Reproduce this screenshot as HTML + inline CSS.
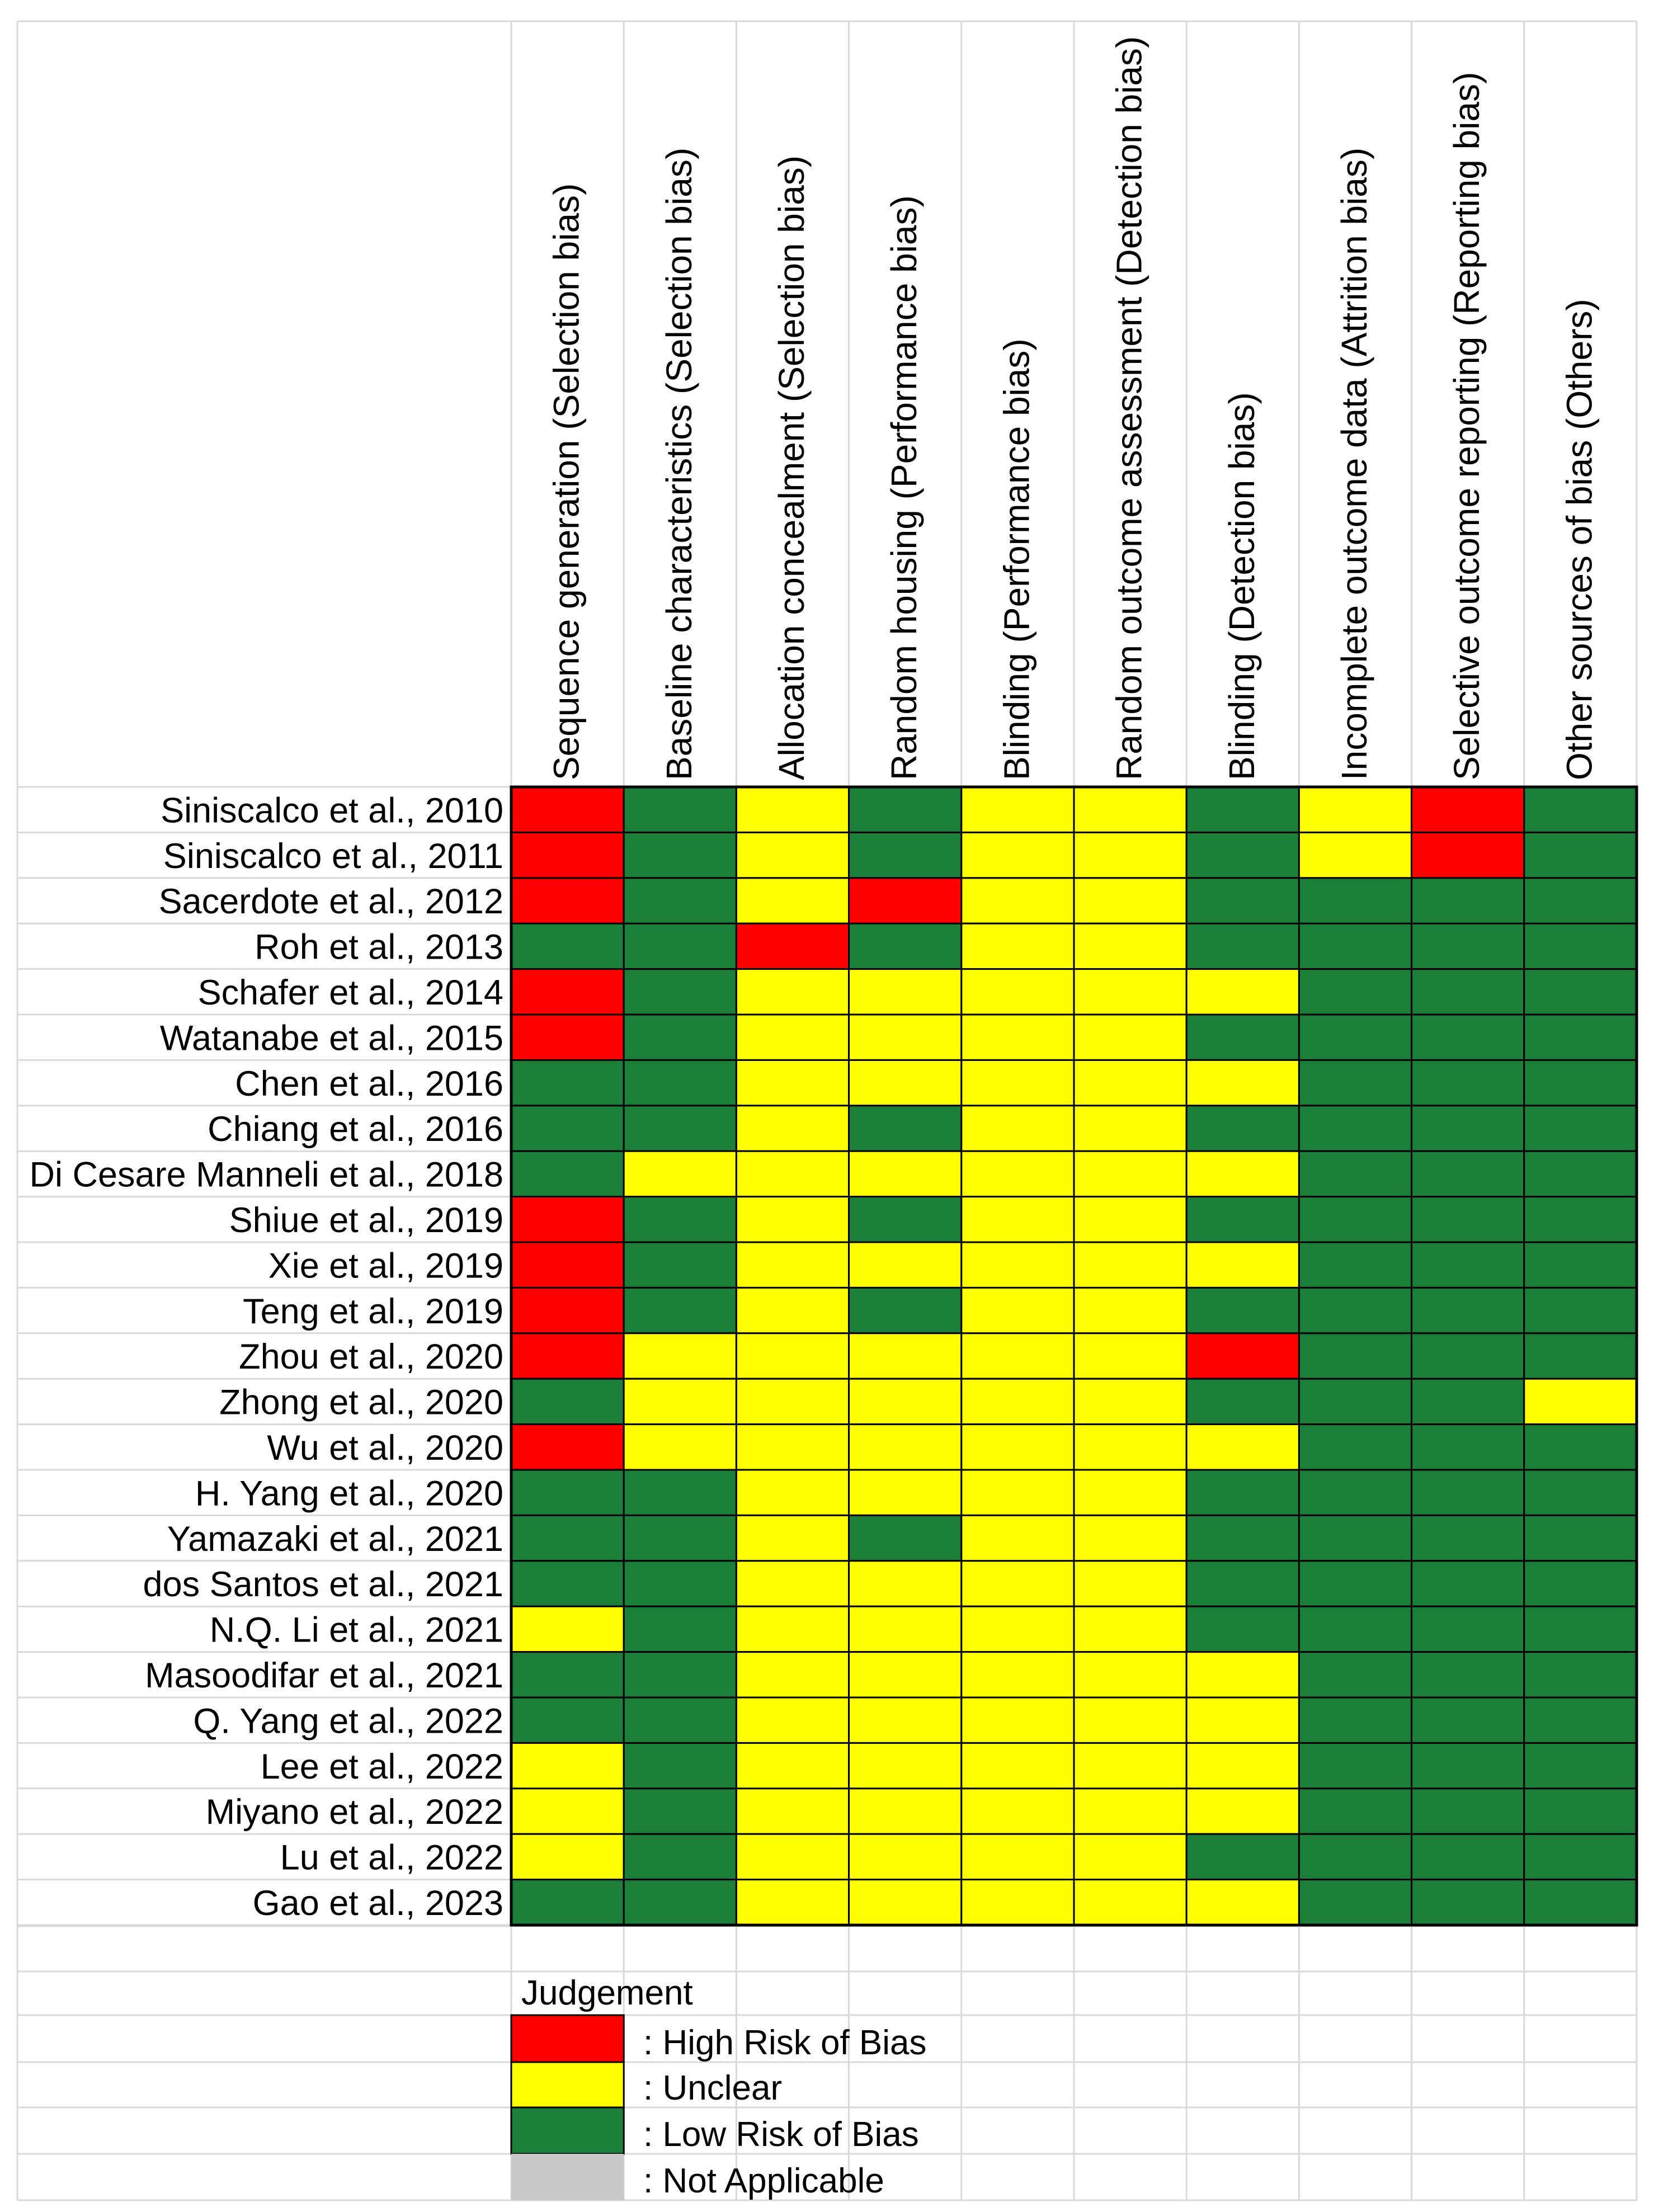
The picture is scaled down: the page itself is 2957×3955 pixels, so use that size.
<!DOCTYPE html>
<html><head><meta charset="utf-8">
<style>
html,body{margin:0;padding:0;background:#fff;}
svg{display:block;font-family:"Liberation Sans",Arial,sans-serif;}
</style></head>
<body>
<svg id="chart" width="2957" height="3955" viewBox="0 0 2957 3955" xmlns="http://www.w3.org/2000/svg"></svg>
<script>
const studies = ["Siniscalco et al., 2010","Siniscalco et al., 2011","Sacerdote et al., 2012","Roh et al., 2013","Schafer et al., 2014","Watanabe et al., 2015","Chen et al., 2016","Chiang et al., 2016","Di Cesare Manneli et al., 2018","Shiue et al., 2019","Xie et al., 2019","Teng et al., 2019","Zhou et al., 2020","Zhong et al., 2020","Wu et al., 2020","H. Yang et al., 2020","Yamazaki et al., 2021","dos Santos et al., 2021","N.Q. Li et al., 2021","Masoodifar et al., 2021","Q. Yang et al., 2022","Lee et al., 2022","Miyano et al., 2022","Lu et al., 2022","Gao et al., 2023"];
const domains = ["Sequence generation (Selection bias)","Baseline characteristics (Selection bias)","Allocation concealment (Selection bias)","Random housing (Performance bias)","Blinding (Performance bias)","Random outcome assessment (Detection bias)","Blinding (Detection bias)","Incomplete outcome data (Attrition bias)","Selective outcome reporting (Reporting bias)","Other sources of bias (Others)"];
const judgements = [
"RGYGYYGYRG","RGYGYYGYRG","RGYRYYGGGG","GGRGYYGGGG","RGYYYYYGGG",
"RGYYYYGGGG","GGYYYYYGGG","GGYGYYGGGG","GYYYYYYGGG","RGYGYYGGGG",
"RGYYYYYGGG","RGYGYYGGGG","RYYYYYRGGG","GYYYYYGGGY","RYYYYYYGGG",
"GGYYYYGGGG","GGYGYYGGGG","GGYYYYGGGG","YGYYYYGGGG","GGYYYYYGGG",
"GGYYYYYGGG","YGYYYYYGGG","YGYYYYYGGG","YGYYYYGGGG","GGYYYYYGGG"];
const legendKeys = ["R","Y","G","N"];
const legendLabels = [": High Risk of Bias",": Unclear",": Low Risk of Bias",": Not Applicable"];

const colors = {R:"#ff0000",Y:"#ffff00",G:"#1b7f3a",N:"#c8c8c8"};
const NS="http://www.w3.org/2000/svg";
const svg=document.getElementById("chart");
const leftX=31, gridX0=914, colW=201.2, topY=38, headerBottom=1407, rowH=81.4;
const rightX=gridX0+colW*domains.length;
const colX=i=>gridX0+i*colW;
const rowY=i=>headerBottom+i*rowH;
const dataBottom=rowY(studies.length);
const extraRows=[3444,3525,3603,3687,3768,3851,3934];
function el(tag,attrs,parent){const e=document.createElementNS(NS,tag);for(const k in attrs)e.setAttribute(k,attrs[k]);(parent||svg).appendChild(e);return e;}
const grid=el("g",{});


el("line",{x1:leftX,x2:rightX,y1:topY,y2:topY,stroke:"#d9d9d9","stroke-width":3},grid);
el("line",{x1:leftX,x2:leftX,y1:topY,y2:3934,stroke:"#d9d9d9","stroke-width":3},grid);
for(let i=0;i<=domains.length;i++){el("line",{x1:colX(i),x2:colX(i),y1:topY,y2:3934,stroke:"#d9d9d9","stroke-width":3},grid);}
for(let r=0;r<=studies.length;r++){el("line",{x1:leftX,x2:gridX0,y1:rowY(r),y2:rowY(r),stroke:"#d9d9d9","stroke-width":3},grid);}
extraRows.forEach(y=>el("line",{x1:leftX,x2:rightX,y1:y,y2:y,stroke:"#d9d9d9","stroke-width":3},grid));
domains.forEach((d,i)=>{
  const cx=colX(i)+colW/2+20, by=headerBottom-12;
  const t=el("text",{x:0,y:0,transform:`translate(${cx},${by}) rotate(-90)`,"font-size":64,fill:"#000"});
  t.textContent=d;
  
  
});
studies.forEach((s,r)=>{
  const t=el("text",{x:gridX0-14,y:rowY(r+1)-18,"text-anchor":"end","font-size":63,fill:"#000"});
  t.textContent=s;
  
  
  for(let c=0;c<domains.length;c++){
    const k=judgements[r][c];
    const rc=el("rect",{x:colX(c),y:rowY(r),width:colW,height:rowH,fill:colors[k],stroke:"#000","stroke-width":3});
    
    
  }
});
el("rect",{x:gridX0,y:headerBottom,width:rightX-gridX0,height:dataBottom-headerBottom,fill:"none",stroke:"#000","stroke-width":5});
const jt=el("text",{x:932,y:3584,"font-size":62,fill:"#000"});
jt.textContent="Judgement";


legendKeys.forEach((k,i)=>{
  const y0=extraRows[i+2], y1=extraRows[i+3];
  const sw=el("rect",{x:gridX0,y:y0,width:colW,height:y1-y0,fill:colors[k],stroke:k==="N"?"none":"#000","stroke-width":3});
  
  
  const lt=el("text",{x:1150,y:y1-14,"font-size":62,fill:"#000"});
  lt.textContent=legendLabels[i];
  
  
});
</script>
</body></html>
